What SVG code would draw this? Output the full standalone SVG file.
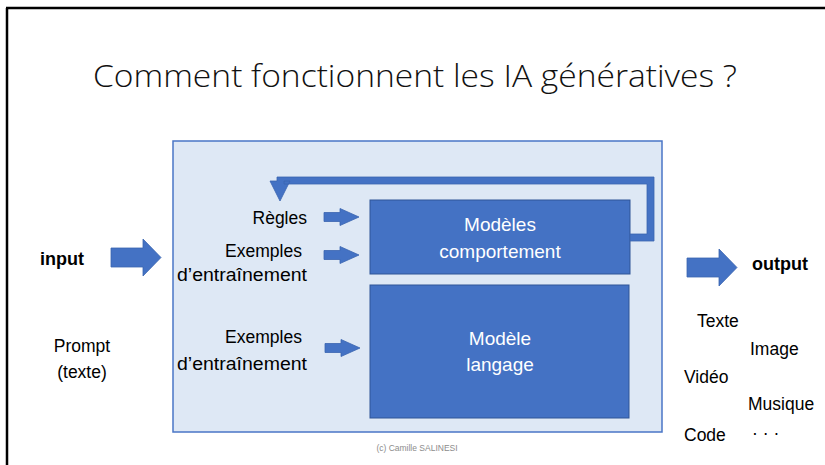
<svg xmlns="http://www.w3.org/2000/svg" xmlns:xlink="http://www.w3.org/1999/xlink" width="825" height="465" viewBox="0 0 825 465">
<style>
.t{font-family:"Liberation Sans",Arial,sans-serif;font-size:17.5px;fill:#000}
.b{font-weight:bold;font-size:18px}
.w{font-family:"Liberation Sans",Arial,sans-serif;font-size:19px;fill:#fff;text-anchor:middle}
.e{text-anchor:end}
.m{text-anchor:middle}
.arr{fill:#4472c4;stroke:#3a64b0;stroke-width:0.8}
.box{fill:#4472c4;stroke:#2f5597;stroke-width:1}
</style>
<defs>
<path id="sa" d="M0,-4.5 H16 V-8.5 L35,0 L16,8.5 V4.5 H0 Z"/>
<path id="ba" d="M0,-9.5 H32 V-18.5 L50,0 L32,18.5 V9.5 H0 Z"/>
</defs>
<rect width="825" height="465" fill="#fff"/>
<g id="frame" fill="none" stroke="#000" stroke-width="2.5">
<path d="M6,8 H825 M7,8 V465"/>
</g>
<text id="title" x="93" y="87" textLength="644" lengthAdjust="spacingAndGlyphs" style="font-family:'Open Sans','Liberation Sans',sans-serif;font-weight:300;font-size:32px;fill:#111">Comment fonctionnent les IA génératives ?</text>
<g id="system">
<rect x="173" y="141" width="489" height="291" fill="#dee8f5" stroke="#4a76c6" stroke-width="1.5"/>
</g>
<g id="modeles-comportement">
<rect class="box" x="370" y="200" width="260" height="74"/>
<text class="w" x="500" y="231">Modèles</text>
<text class="w" x="500" y="258">comportement</text>
</g>
<g id="modele-langage">
<rect class="box" x="370" y="285" width="259" height="133"/>
<text class="w" x="500" y="345">Modèle</text>
<text class="w" x="500" y="371">langage</text>
</g>
<g id="inputs-haut">
<text class="t e" x="307" y="224">Règles</text>
<text class="t" x="225" y="257" textLength="77" lengthAdjust="spacingAndGlyphs">Exemples</text>
<text class="t" x="177" y="281" textLength="130" lengthAdjust="spacingAndGlyphs">d’entraînement</text>
</g>
<g id="inputs-bas">
<text class="t" x="225" y="343" textLength="77" lengthAdjust="spacingAndGlyphs">Exemples</text>
<text class="t" x="177" y="370" textLength="130" lengthAdjust="spacingAndGlyphs">d’entraînement</text>
</g>
<g id="input">
<text class="t b" x="40" y="265">input</text>
<text class="t m" x="82" y="352">Prompt</text>
<text class="t m" x="82" y="378">(texte)</text>
</g>
<g id="output">
<text class="t b" x="752" y="270">output</text>
<text class="t" x="697" y="327">Texte</text>
<text class="t" x="750" y="355">Image</text>
<text class="t" x="684" y="383">Vidéo</text>
<text class="t" x="748" y="410">Musique</text>
<text class="t" x="684" y="441">Code</text>
<text class="t" x="752" y="439">· · ·</text>
</g>
<g id="connectors">
<use xlink:href="#ba" class="arr" transform="translate(111,257.5)"/>
<use xlink:href="#ba" class="arr" transform="translate(687,267.5)"/>
<use xlink:href="#sa" class="arr" transform="translate(324,217)"/>
<use xlink:href="#sa" class="arr" transform="translate(324,255)"/>
<use xlink:href="#sa" class="arr" transform="translate(325,348)"/>
<path class="arr" d="M630,234 H647 V184 H284 V181 H290 L280,201 L270,181 H277 V177 H654 V241 H630 Z"/>
</g>
<text id="copyright" x="417" y="451" text-anchor="middle" style="font-family:'Liberation Sans',Arial,sans-serif;font-size:8.5px;fill:#8c8c8c">(c) Camille SALINESI</text>
</svg>
